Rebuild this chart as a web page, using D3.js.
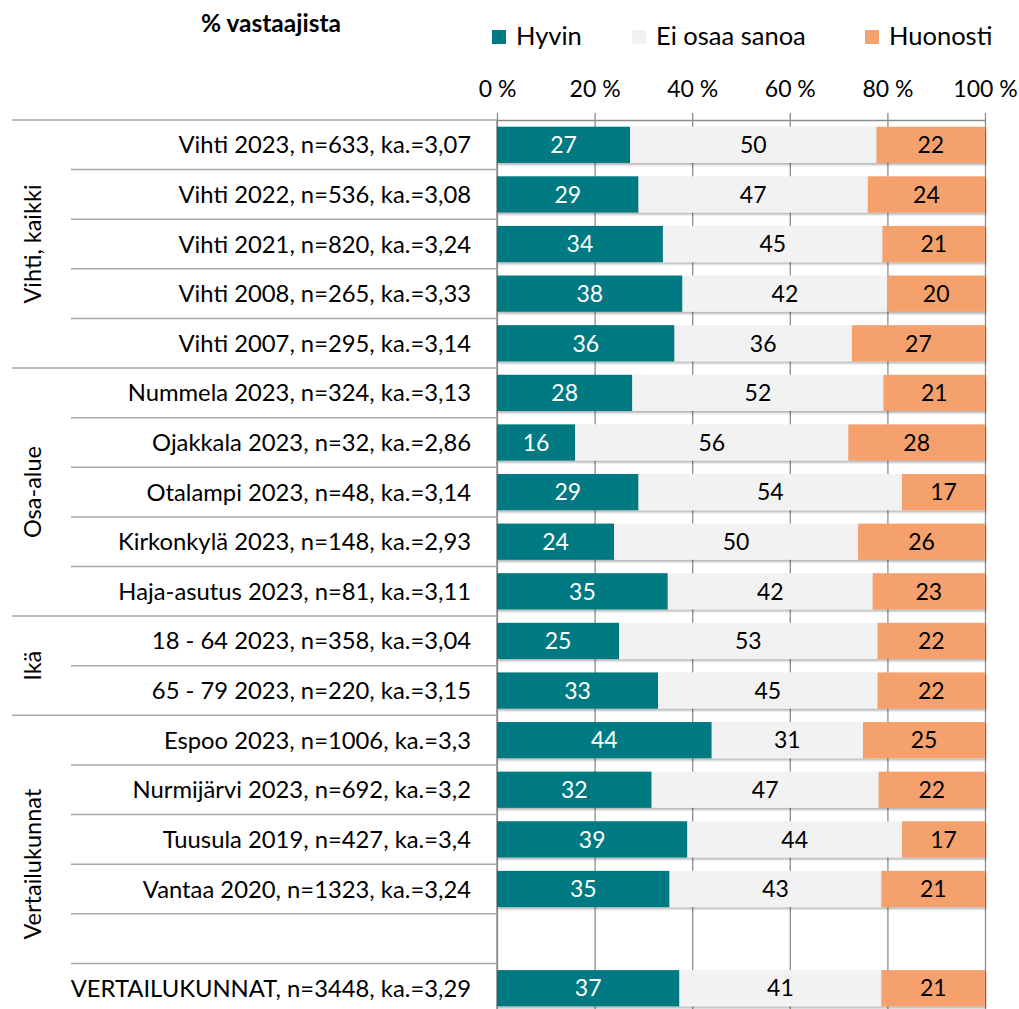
<!DOCTYPE html>
<meta charset="utf-8">
<style>
body { margin:0; background:#fff; }
text { font-family: Lato, sans-serif; fill:#000; }
.cat { font-size:23.8px; text-anchor:end; }
.grp { font-size:23.5px; text-anchor:middle; }
.val { font-size:23px; text-anchor:middle; }
.legend text { font-size:25.5px; }
.title { font-size:24.5px; font-weight:bold; text-anchor:middle; }
.xaxis text { font-size:23px; font-family: Lato, sans-serif; fill:#000; }
.xaxis path, .xaxis line { stroke:#8c8c8c; stroke-width:1.3px; }
.grid line { stroke:#8c8c8c; stroke-width:1.3px; }
.grid path { display:none; }
.sep { stroke:#a6a6a6; stroke-width:1.5px; }
</style>
<body>
<script src="https://cdn.jsdelivr.net/npm/d3@7"></script>
<script>

var categories = [
  "Vihti 2023, n=633, ka.=3,07",
  "Vihti 2022, n=536, ka.=3,08",
  "Vihti 2021, n=820, ka.=3,24",
  "Vihti 2008, n=265, ka.=3,33",
  "Vihti 2007, n=295, ka.=3,14",
  "Nummela 2023, n=324, ka.=3,13",
  "Ojakkala 2023, n=32, ka.=2,86",
  "Otalampi 2023, n=48, ka.=3,14",
  "Kirkonkylä 2023, n=148, ka.=2,93",
  "Haja-asutus 2023, n=81, ka.=3,11",
  "18 - 64 2023, n=358, ka.=3,04",
  "65 - 79 2023, n=220, ka.=3,15",
  "Espoo 2023, n=1006, ka.=3,3",
  "Nurmijärvi 2023, n=692, ka.=3,2",
  "Tuusula 2019, n=427, ka.=3,4",
  "Vantaa 2020, n=1323, ka.=3,24",
  "",
  "VERTAILUKUNNAT, n=3448, ka.=3,29"
];
var hyvin    = [27,29,34,38,36,28,16,29,24,35,25,33,44,32,39,35,0,37];
var eiOsaa   = [50,47,45,42,36,52,56,54,50,42,53,45,31,47,44,43,0,41];
var huonosti = [22,24,21,20,27,21,28,17,26,23,22,22,25,22,17,21,0,21];

var seriesNames = ["Hyvin","Ei osaa sanoa","Huonosti"];
var seriesColors = ["#007a82","#f2f2f2","#f4a16e"];
var labelColors = ["#ffffff","#000000","#000000"];

var groupNames = ["Vihti, kaikki","Osa-alue","Ikä","Vertailukunnat"];
var groupSizes = [5,5,2,6];

var tickValues = [0,0.2,0.4,0.6,0.8,1];
var tickLabels = ["0 %","20 %","40 %","60 %","80 %","100 %"];

var W = 1019, H = 1009;
var plotTop = 120, plotBottom = 1013, plotLeft = 497, plotRight = 985;

var svg = d3.select("body").append("svg").attr("width", W).attr("height", H);

var defs = svg.append("defs");
defs.append("filter").attr("id","shadow")
    .attr("x","-5%").attr("y","-20%").attr("width","110%").attr("height","160%")
  .append("feDropShadow")
    .attr("dx",1).attr("dy",2).attr("stdDeviation",1.2)
    .attr("flood-color","#000").attr("flood-opacity",0.3);

var rows = categories.map(function(c,i){
  return {cat:c, i:i, "Hyvin":hyvin[i], "Ei osaa sanoa":eiOsaa[i], "Huonosti":huonosti[i]};
});

var x = d3.scaleLinear().domain([0,1]).range([plotLeft, plotRight]);
var y = d3.scaleBand().domain(d3.range(categories.length))
    .range([plotTop, plotBottom]).paddingInner(0.27).paddingOuter(0.135);
var color = d3.scaleOrdinal().domain(seriesNames).range(seriesColors);
var textColor = d3.scaleOrdinal().domain(seriesNames).range(labelColors);

var stack = d3.stack().keys(seriesNames).offset(d3.stackOffsetExpand);
var series = stack(rows);

// gridlines
svg.append("g").attr("class","grid")
  .attr("transform","translate(0,"+plotTop+")")
  .call(d3.axisTop(x).tickValues(tickValues).tickSizeInner(-(plotBottom-plotTop)).tickSizeOuter(0).tickFormat(""));

// top axis
svg.append("g").attr("class","xaxis")
  .attr("transform","translate(0,"+plotTop+")")
  .call(d3.axisTop(x).tickValues(tickValues).tickFormat(function(d,i){ return tickLabels[i]; })
    .tickSize(7).tickSizeOuter(0).tickPadding(16));

// left axis line
svg.append("line").attr("class","sep")
  .attr("x1",plotLeft).attr("x2",plotLeft).attr("y1",plotTop).attr("y2",plotBottom)
  .style("stroke","#8c8c8c");

// row and group separators
var step = y.step();
var groupStarts = [0];
groupSizes.forEach(function(s,i){ groupStarts.push(groupStarts[i]+s); });
svg.append("g").selectAll("line")
  .data(d3.range(categories.length+1))
  .join("line").attr("class","sep")
  .attr("x1", function(i){ return groupStarts.indexOf(i) >= 0 ? 12 : 71; })
  .attr("x2", plotLeft)
  .attr("y1", function(i){ return plotTop + i*step; })
  .attr("y2", function(i){ return plotTop + i*step; });

// bars
var layer = svg.append("g").selectAll("g")
  .data(series).join("g")
  .attr("fill", function(s){ return color(s.key); });

layer.selectAll("rect")
  .data(function(s){ return s.filter(function(d){ return d.data[s.key] > 0; }); })
  .join("rect")
  .attr("x", function(d){ return x(d[0]); })
  .attr("y", function(d){ return y(d.data.i); })
  .attr("width", function(d){ return x(d[1]) - x(d[0]); })
  .attr("height", y.bandwidth())
  .attr("filter","url(#shadow)");

// value labels
svg.append("g").selectAll("g")
  .data(series).join("g")
  .each(function(s){
    d3.select(this).selectAll("text")
      .data(s.filter(function(d){ return d.data[s.key] > 0; }))
      .join("text").attr("class","val")
      .attr("x", function(d){ return (x(d[0]) + x(d[1]))/2; })
      .attr("y", function(d){ return y(d.data.i) + y.bandwidth()/2; })
      .attr("dy","0.36em")
      .style("fill", textColor(s.key))
      .text(function(d){ return d.data[s.key]; });
  });

// category labels
svg.append("g").selectAll("text")
  .data(rows).join("text").attr("class","cat")
  .attr("x", 471)
  .attr("y", function(d){ return y(d.i) + y.bandwidth()/2; })
  .attr("dy","0.36em")
  .text(function(d){ return d.cat; });

// group labels
svg.append("g").selectAll("text")
  .data(groupNames).join("text").attr("class","grp")
  .attr("transform", function(g,i){
    var cy = plotTop + (groupStarts[i] + groupSizes[i]/2)*step;
    return "translate(33,"+cy+") rotate(-90)";
  })
  .attr("dy","0.36em")
  .text(function(g){ return g; });

// title
svg.append("text").attr("class","title").attr("x",271).attr("y",32).text("% vastaajista");

// legend
var legendX = [492, 632, 865];
var lg = svg.append("g").attr("class","legend").selectAll("g")
  .data(seriesNames).join("g")
  .attr("transform", function(d,i){ return "translate("+legendX[i]+",0)"; });
lg.append("rect").attr("x",0).attr("y",30).attr("width",14).attr("height",14)
  .attr("fill", function(d){ return color(d); });
lg.append("text").attr("x",24).attr("y",45).text(function(d){ return d; });

</script>
</body>
